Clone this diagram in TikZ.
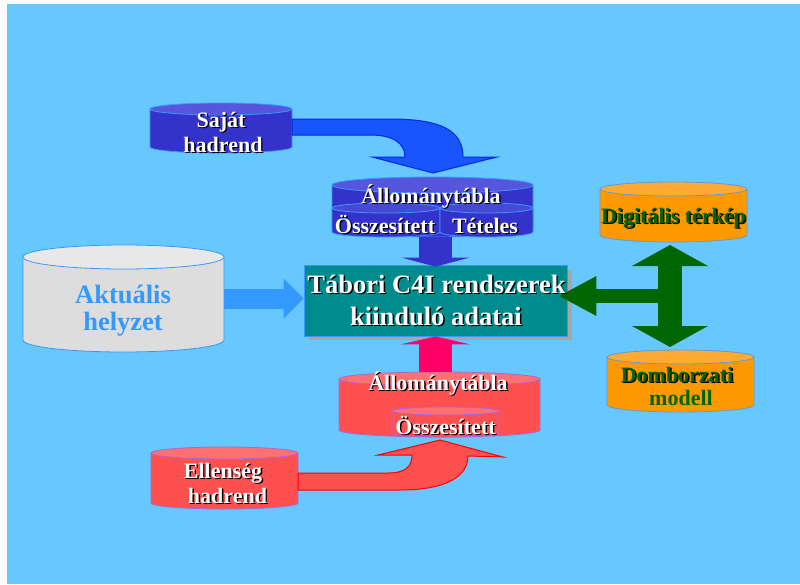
\documentclass[tikz,border=0pt]{standalone}
\usepackage{fontspec}
\setmainfont{Liberation Serif}
\usetikzlibrary{arrows.meta,calc}
\definecolor{bgc}{RGB}{102,200,255}
\definecolor{bdark}{RGB}{51,51,204}
\definecolor{btop}{RGB}{85,85,221}
\definecolor{btoptwo}{RGB}{72,72,214}
\definecolor{bline}{RGB}{60,150,255}
\definecolor{gbody}{RGB}{221,221,221}
\definecolor{gtop}{RGB}{232,232,232}
\definecolor{rbody}{RGB}{255,80,80}
\definecolor{rtop}{RGB}{255,112,112}
\definecolor{rline}{RGB}{170,100,220}
\definecolor{obody}{RGB}{255,153,0}
\definecolor{otop}{RGB}{255,170,51}
\definecolor{oline}{RGB}{102,153,204}
\definecolor{tealc}{RGB}{0,140,140}
\definecolor{shgray}{RGB}{166,166,166}
\definecolor{lblue}{RGB}{51,153,255}
\definecolor{pinkc}{RGB}{255,0,102}
\definecolor{dgreen}{RGB}{0,102,0}
\definecolor{cfill}{RGB}{25,85,255}
\definecolor{cline}{RGB}{0,40,230}
\definecolor{redline}{RGB}{255,0,0}
\newcommand\cyl[8]{%
  \fill[#6] (#1,-#3-#5) -- (#1,-#4+#5) arc[start angle=180,end angle=360,x radius={(#2-#1)/2},y radius=#5] -- (#2,-#3-#5) -- cycle;
  \draw[#8,line width=0.8pt] (#1,-#3-#5) -- (#1,-#4+#5) arc[start angle=180,end angle=360,x radius={(#2-#1)/2},y radius=#5] -- (#2,-#3-#5);
  \draw[#8,fill=#7,line width=0.8pt] ({(#1+#2)/2},-#3-#5) ellipse[x radius={(#2-#1)/2},y radius=#5];
}
\newcommand\cylnode[5]{%
  \node[inner sep=0pt,outer sep=0pt,minimum width={(#3-#2)*1pt},minimum height={(#5-#4)*1pt}] (#1) at ({(#2+#3)/2},{-(#4+#5)/2}) {};
}
\newcommand\sh[1]{\leavevmode\rlap{\kern1.4pt\raisebox{-1.4pt}{\color{black}#1}}#1}
\tikzset{
  stxt/.style={font=\fontsize{22}{25}\selectfont\bfseries,inner sep=0pt,anchor=base},
  btxt/.style={font=\fontsize{26.5}{31}\selectfont\bfseries,inner sep=0pt,anchor=base},
  tip/.style n args={2}{-{Triangle[length=#1,width=#2,line width=0pt]}},
}
\begin{document}
\begin{tikzpicture}[x=1pt,y=1pt]
\useasboundingbox (0,0) rectangle (800,-584);
\fill[white] (0,0) rectangle (800,-584);
\fill[bgc] (7,-4) rectangle (800,-584);

% cylinders
\cyl{150}{292}{103}{153}{6}{bdark}{btop}{bline}
\cyl{332}{533}{177}{237}{8}{bdark}{btop}{bline}
\cyl{332}{440}{203}{237}{5}{bdark}{btoptwo}{bline}
\cyl{440}{533}{203}{237}{5}{bdark}{btoptwo}{bline}
\cyl{23}{224}{245}{352}{12}{gbody}{gtop}{bline}
\cyl{339}{540}{372}{437}{7}{rbody}{rtop}{rline}
\cyl{392}{499}{407}{437}{4}{rbody}{rtop}{rline}
\cyl{151}{298}{447}{509}{6}{rbody}{rtop}{rline}
\cyl{600}{747}{182}{242}{7}{obody}{otop}{oline}
\cyl{607}{754}{350}{412}{7}{obody}{otop}{oline}

\cylnode{sajat}{150}{292}{103}{153}
\cylnode{allo}{332}{533}{177}{237}
\cylnode{akt}{23}{224}{245}{352}
\cylnode{ralloc}{339}{540}{372}{437}
\cylnode{ell}{151}{298}{447}{509}
\cylnode{dig}{600}{747}{182}{242}
\cylnode{dom}{607}{754}{350}{412}

% central box
\fill[shgray] (309,-270) rectangle (572,-340);
\node[draw=bline,line width=0.8pt,fill=tealc,minimum width=263pt,minimum height=71pt,inner sep=0pt] (tabori) at (435.5,-300.5) {};

% straight block arrows
\draw[bdark,line width=33pt,tip={9pt}{68pt}] (allo.south -| tabori.north) -- ([yshift=-2pt]tabori.north);
\draw[pinkc,line width=33pt,tip={8pt}{70pt}] (ralloc.north -| tabori.south) -- (tabori.south);
\draw[lblue,line width=20pt,tip={20pt}{40pt}] (akt.east) -- (akt.east -| tabori.west);

\coordinate (gx) at (670,0);
\coordinate (gmid) at (670,-296);
\draw[dgreen,line width=14pt,tip={37pt}{40pt},shorten >=-8pt] (gmid) -- (tabori.east |- gmid);
\draw[dgreen,line width=24pt,{Triangle[length=21pt,width=76pt,line width=0pt]}-{Triangle[length=21pt,width=76pt,line width=0pt]},shorten <=3pt,shorten >=3pt] (dig.south -| gx) -- (dom.north -| gx);

% curved arrows
\draw[fill=cfill,draw=cline,line width=1pt] (292,-119) -- (390,-119) .. controls (440,-119) and (463,-130) .. (463,-157) -- (497,-157) -- (433,-173) -- (372,-157) -- (405,-157) .. controls (405,-143) and (393,-135) .. (370,-135) -- (292,-135) -- cycle;
\draw[fill=rbody,draw=redline,line width=1pt] (298,-490) -- (400,-490) .. controls (445,-490) and (468,-477) .. (468,-456) -- (503,-457) -- (440,-440) -- (378,-455) -- (412,-455) .. controls (412,-466) and (406,-473) .. (388,-473) -- (298,-473) -- cycle;

% texts
\node[stxt,text=white] (t1) at (221,-127) {\sh{Saját}};
\node[stxt,text=white] (t2) at (223,-152) {\sh{hadrend}};
\node[stxt,text=white] (t3) at (431,-203) {\sh{Állománytábla}};
\node[stxt,text=white] (t4) at (385,-233) {\sh{Összesített}};
\node[stxt,text=white] (t5) at (485,-233) {\sh{Tételes}};
\node[btxt,text=white] (t6) at (436.5,-293) {\sh{Tábori C4I rendszerek}};
\node[btxt,text=white] (t7) at (436,-325) {\sh{kiinduló adatai}};
\node[btxt,text=lblue] (t8) at (123,-303) {Aktuális};
\node[btxt,text=lblue] (t9) at (123,-330) {helyzet};
\node[stxt,text=white] (t10) at (438,-390) {\sh{Állománytábla}};
\node[stxt,text=white] (t11) at (445.5,-434) {\sh{Összesített}};
\node[stxt,text=white] (t12) at (223,-478) {\sh{Ellenség}};
\node[stxt,text=white] (t13) at (227.5,-503) {\sh{hadrend}};
\node[stxt,text=dgreen] (t14) at (673.5,-223) {\sh{Digitális térkép}};
\node[stxt,text=dgreen] (t15) at (677,-382) {\sh{Domborzati}};
\node[stxt,text=dgreen] (t16) at (681,-405) {modell};
\end{tikzpicture}
\end{document}
